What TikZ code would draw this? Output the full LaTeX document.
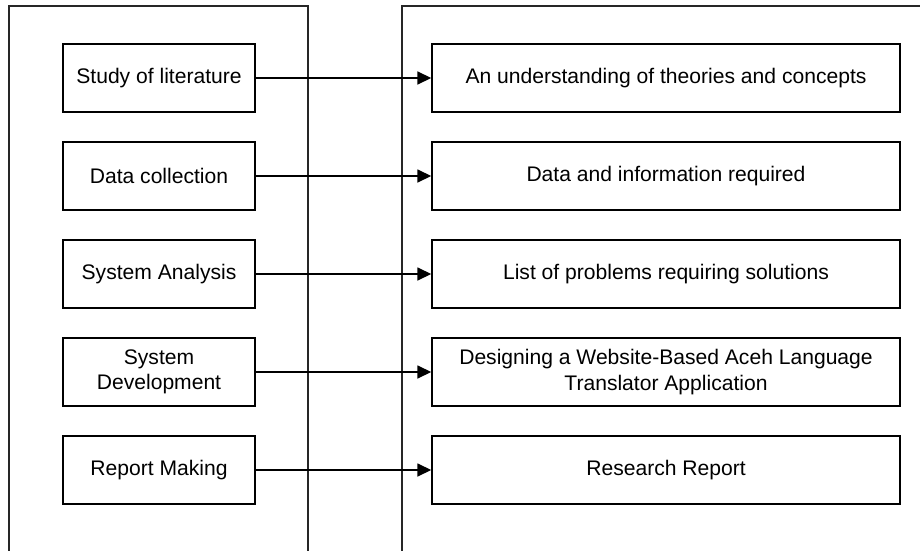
\documentclass[tikz,border=0pt]{standalone}
\usepackage{fontspec}
\setmainfont{Liberation Sans}
\usepackage{tikz}
\usetikzlibrary{arrows.meta}

\begin{document}
\begin{tikzpicture}[>={Triangle[length=2.8mm,width=2.6mm]},font=\fontsize{12}{14.5}\selectfont,
  stage/.style={draw,line width=0.8pt,minimum width=3.84cm,minimum height=1.36cm,align=center,inner sep=1pt},
  result/.style={draw,line width=0.8pt,minimum width=9.36cm,minimum height=1.36cm,align=center,inner sep=1pt},
  lane/.style={line width=0.6pt,black!85}]
\clip (0,0) rectangle (18.4,-11);
% the two columns, open at the bottom
\draw[lane] (0.18,-11.2) |- (6.16,-0.12) -- (6.16,-11.2);
\draw[lane] (8.04,-11.2) |- (18.6,-0.12);
% activities
\node[stage] (lit) at (3.18,-1.56) {Study of literature};
\node[stage] (data) at (3.18,-3.52) {Data collection};
\node[stage] (anal) at (3.18,-5.48) {System Analysis};
\node[stage] (dev) at (3.18,-7.44) {System\\Development};
\node[stage] (rep) at (3.18,-9.40) {Report Making};
% outputs
\node[result] (lit-out) at (13.32,-1.56) {An understanding of theories and concepts};
\node[result] (data-out) at (13.32,-3.52) {Data and information required};
\node[result] (anal-out) at (13.32,-5.48) {List of problems requiring solutions};
\node[result] (dev-out) at (13.32,-7.44) {Designing a Website-Based Aceh Language\\Translator Application};
\node[result] (rep-out) at (13.32,-9.40) {Research Report};
% arrows
\draw[->,line width=0.9pt] (lit) -- (lit-out);
\draw[->,line width=0.9pt] (data) -- (data-out);
\draw[->,line width=0.9pt] (anal) -- (anal-out);
\draw[->,line width=0.9pt] (dev) -- (dev-out);
\draw[->,line width=0.9pt] (rep) -- (rep-out);
\end{tikzpicture}
\end{document}
